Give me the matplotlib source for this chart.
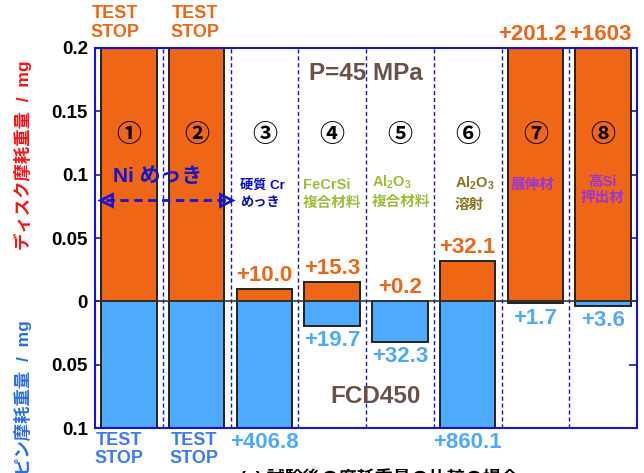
import numpy as np
import matplotlib.pyplot as plt

plt.rcParams['font.family'] = ['Liberation Sans', 'Noto Sans CJK JP', 'DejaVu Sans']
plt.rcParams['font.weight'] = 'bold'
plt.rcParams['mathtext.fontset'] = 'custom'
plt.rcParams['mathtext.rm'] = 'Liberation Sans'
plt.rcParams['mathtext.bf'] = 'Liberation Sans:bold'

# wear weight in micro-gram, None = test stopped (off scale)
numbers = ['①', '②', '③', '④', '⑤', '⑥', '⑦', '⑧']
disk_wear = [None, None, 10.0, 15.3, 0.2, 32.1, 201.2, 1603]
pin_wear = [None, None, 406.8, 19.7, 32.3, 860.1, 1.7, 3.6]
yticks = [0.2, 0.15, 0.1, 0.05, 0, -0.05, -0.1]
ytick_labels = ['0.2', '0.15', '0.1', '0.05', '0', '0.05', '0.1']

ymax, ymin = 0.2, -0.1
orange = '#EF6616'
lblue = '#4DAAFF'
blue = '#1515D0'
brown = '#6B5048'
green = '#9BBE38'
olive = '#8A7420'
purple = '#9A35D8'

fig = plt.figure(figsize=(6.44, 4.73), dpi=100)
ax = fig.add_axes([95 / 644, 1 - 428 / 473, 542 / 644, 380 / 473])

x = np.arange(1, 9)
disk_h = [ymax if v is None else min(v / 1000, ymax) for v in disk_wear]
pin_h = [-abs(ymin) if v is None else -min(v / 1000, abs(ymin)) for v in pin_wear]

ax.bar(x, disk_h, width=0.82, color=orange, edgecolor='#222222', linewidth=1.4, zorder=2)
ax.bar(x, pin_h, width=0.82, color=lblue, edgecolor='#222222', linewidth=1.4, zorder=2)
ax.axhline(0, color='#333333', lw=1.2, zorder=3)

for b in np.arange(1.5, 8.5, 1):
    ax.axvline(b, color=blue, lw=1, ls=(0, (3, 2)), zorder=1)

ax.set_xlim(0.5, 8.5)
ax.set_ylim(ymin, ymax)
ax.set_xticks([])
ax.set_yticks(yticks)
ax.set_yticklabels(ytick_labels, fontsize=13.5, fontweight='bold')
ax.tick_params(axis='y', direction='in', length=6, color=blue, width=1.2,
               right=True, pad=5)
for s in ax.spines.values():
    s.set_color(blue)
    s.set_linewidth(1.5)

# values above / below bars
stop_dx_top = [-10, -1]
stop_dx_bot = [-7, -2]
for i, (xi, v, h) in enumerate(zip(x, disk_wear, disk_h)):
    if v is None:
        ax.annotate('TEST\nSTOP', (xi, ymax), xytext=(stop_dx_top[i], 5), textcoords='offset points',
                    ha='center', va='bottom', color=orange, fontsize=13,
                    fontweight='bold', linespacing=1.15, annotation_clip=False)
    else:
        ax.annotate('+%.1f' % v if v < 1000 else '+%d' % v, (xi, h), xytext=(-2 if h >= ymax else 0, 5.5),
                    textcoords='offset points', ha='center', va='baseline',
                    color=orange, fontsize=16, fontweight='bold', annotation_clip=False)
for i, (xi, v, h) in enumerate(zip(x, pin_wear, pin_h)):
    if v is None:
        ax.annotate('TEST\nSTOP', (xi, ymin), xytext=(stop_dx_bot[i], -3), textcoords='offset points',
                    ha='center', va='top', color='#3A7CF5', fontsize=13,
                    fontweight='bold', linespacing=1.1, annotation_clip=False)
    else:
        ax.annotate('+%.1f' % v, (xi, h), xytext=(0, -3),
                    textcoords='offset points', ha='center', va='top',
                    color=lblue, fontsize=16, fontweight='bold', annotation_clip=False)

for xi, n in zip(x, numbers):
    ax.text(xi, 0.131, n, ha='center', va='center', fontsize=18,
            family=['Noto Sans CJK JP'], fontweight='bold', color='black')

ax.text(4.5, 0.180, 'P=45 MPa', ha='center', va='center', fontsize=17.5,
        fontweight='bold', color=brown)
ax.text(4.64, -0.0755, 'FCD450', ha='center', va='center', fontsize=17.5,
        fontweight='bold', color=brown)

# material names
ax.text(1.42, 0.0984, 'Ni めっき', ha='center', va='center', fontsize=15,
        fontweight='bold', color=blue)
ax.plot([0.66, 2.43], [0.0803, 0.0803], color=blue, lw=2, ls=(0, (3, 2)), zorder=4)
ax.plot([0.66], [0.0803], marker='<', ms=9, mfc='none', mec=blue, mew=2, zorder=4)
ax.plot([2.43], [0.0803], marker='>', ms=9, mfc='none', mec=blue, mew=2, zorder=4)

ax.text(2.64, 0.0913, '硬質 Cr', ha='left', va='center', fontsize=9.5,
        fontweight='bold', color='#0A0ACC')
ax.text(2.64, 0.0779, 'めっき', ha='left', va='center', fontsize=9.5,
        fontweight='bold', color='#0A0ACC')
ax.text(3.57, 0.092, 'FeCrSi', ha='left', va='center', fontsize=10.5,
        fontweight='bold', color=green)
ax.text(3.57, 0.078, '複合材料', ha='left', va='center', fontsize=10.5,
        fontweight='bold', color=green)
ax.text(4.59, 0.094, r'$\mathbf{Al_2O_3}$', ha='left', va='center', fontsize=10.5,
        color=green)
ax.text(4.59, 0.0787, '複合材料', ha='left', va='center', fontsize=10.5,
        fontweight='bold', color=green)
ax.text(5.81, 0.093, r'$\mathbf{Al_2O_3}$', ha='left', va='center', fontsize=10.5,
        color=olive)
ax.text(5.81, 0.0763, '溶射', ha='left', va='center', fontsize=10.5,
        fontweight='bold', color=olive)
ax.text(6.96, 0.092, '展伸材', ha='center', va='center', fontsize=10.5,
        fontweight='bold', color=purple)
ax.text(7.99, 0.094, '高Si', ha='center', va='center', fontsize=10.5,
        fontweight='bold', color=purple)
ax.text(7.99, 0.0818, '押出材', ha='center', va='center', fontsize=10.5,
        fontweight='bold', color=purple)

# axis titles
fig.text(23 / 644, 1 - 155 / 473, 'ディスク摩耗重量  /  mg', rotation=90, ha='center',
         va='center', fontsize=12.5, fontweight='bold', color='#FF1010')
fig.text(23 / 644, 1 - 398 / 473, 'ピン摩耗重量  /  mg', rotation=90, ha='center',
         va='center', fontsize=12.5, fontweight='bold', color='#2A6EE8')

fig.text(240 / 644, 1 - 468 / 473, '(a) 試験後の摩耗重量の比較の場合', ha='left',
         va='top', fontsize=13, color='black')

fig.savefig('out.png', dpi=100)
